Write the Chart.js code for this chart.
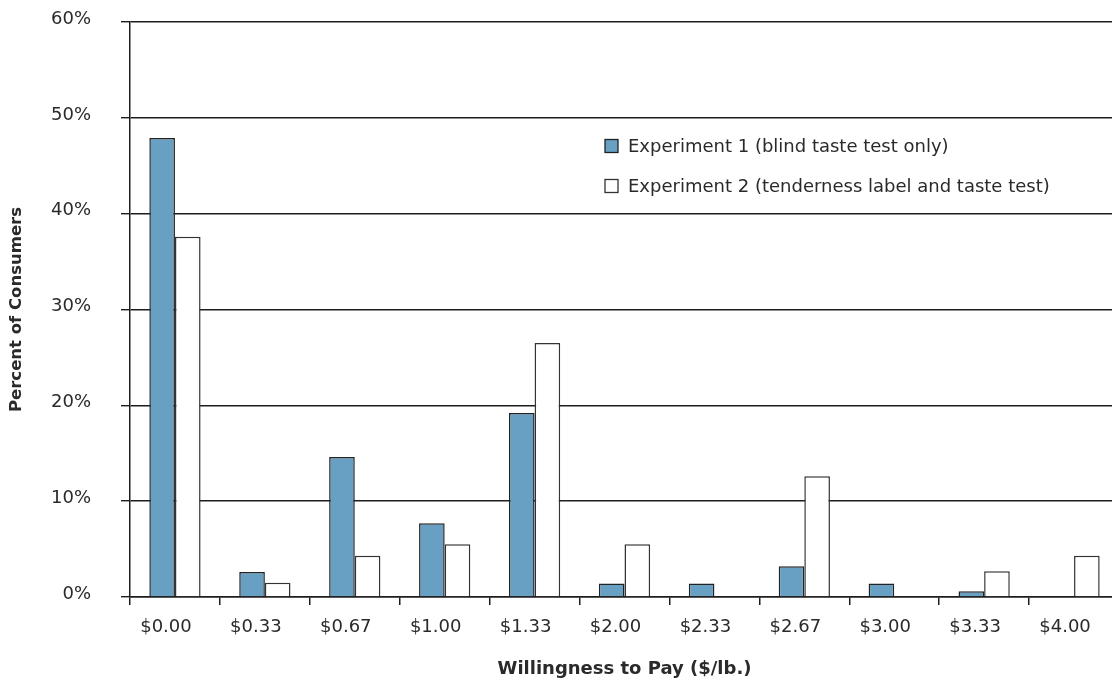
<!DOCTYPE html>
<html>
<head>
<meta charset="utf-8">
<script src="https://cdn.jsdelivr.net/npm/chart.js@4"></script>
<style>
    html, body { margin: 0; padding: 0; background: #fff; overflow: hidden; }
    #wrap { width: 1119px; height: 681px; position: relative; }
</style>
</head>
<body>
<div id="wrap"><canvas id="wtpChart"></canvas></div>
<script>
//chart data
const priceLabels = ['$0.00', '$0.33', '$0.67', '$1.00', '$1.33', '$2.00', '$2.33', '$2.67', '$3.00', '$3.33', '$4.00'];
const experiment1 = [47.9, 2.6, 14.6, 7.7, 19.2, 1.4, 1.4, 3.2, 1.4, 0.6, 0];
const experiment2 = [37.6, 1.5, 4.3, 5.5, 26.5, 5.5, 0, 12.6, 0, 2.7, 4.3];
const seriesNames = ['Experiment 1 (blind taste test only)', 'Experiment 2 (tenderness label and taste test)'];
const yTicks = [0, 10, 20, 30, 40, 50, 60];

const FONT = '"DejaVu Sans", Verdana, sans-serif';
const TEXT_COLOR = '#2a2a2a';
const LINE_COLOR = '#1e1e1e';

//legend drawn inside the plot area
const insideLegend = {
    id: 'insideLegend',
    afterDraw(chart) {
        const ctx = chart.ctx;
        const area = chart.chartArea;
        const x = area.left + 475;
        const rows = [area.top + 124, area.top + 164];
        ctx.save();
        ctx.font = '18px ' + FONT;
        ctx.textBaseline = 'middle';
        chart.data.datasets.forEach((ds, i) => {
            const y = rows[i];
            ctx.fillStyle = ds.backgroundColor;
            ctx.fillRect(x, y - 6.5, 13, 13);
            ctx.strokeStyle = ds.borderColor;
            ctx.lineWidth = 1.3;
            ctx.strokeRect(x, y - 6.5, 13, 13);
            ctx.fillStyle = TEXT_COLOR;
            ctx.fillText(ds.label, x + 23, y + 1);
        });
        ctx.restore();
    }
};

const ctx = document.getElementById('wtpChart').getContext('2d');
new Chart(ctx, {
    type: 'bar',
    data: {
        labels: priceLabels,
        datasets: [
            {
                label: seriesNames[0],
                data: experiment1,
                backgroundColor: '#68a0c4',
                borderColor: '#222',
                borderWidth: 1.5,
                borderSkipped: 'start'
            }, {
                label: seriesNames[1],
                data: experiment2,
                backgroundColor: '#ffffff',
                borderColor: '#333',
                borderWidth: 1.5,
                borderSkipped: 'start'
            }
        ]
    },
    options: {
        responsive: true,
        maintainAspectRatio: false,
        animation: false,
        layout: {
            padding: { top: 22, right: 0, left: 0, bottom: 0 }
        },
        datasets: {
            bar: {
                categoryPercentage: 0.57,
                barPercentage: 1.0
            }
        },
        plugins: {
            legend: { display: false },
            tooltip: { enabled: false }
        },
        scales: {
            x: {
                grid: {
                    offset: true,
                    drawOnChartArea: false,
                    drawTicks: true,
                    tickLength: 8,
                    color: LINE_COLOR,
                    lineWidth: 1.5
                },
                border: { color: LINE_COLOR, width: 1.5 },
                ticks: {
                    color: TEXT_COLOR,
                    font: { family: FONT, size: 18 },
                    padding: 12,
                    labelOffset: -9,
                    maxRotation: 0,
                    autoSkip: false
                },
                title: {
                    display: true,
                    text: 'Willingness to Pay ($/lb.)',
                    color: TEXT_COLOR,
                    font: { family: FONT, size: 18, weight: 'bold' },
                    padding: { top: 0, bottom: 1 }
                },
                afterFit(scale) {
                    scale.height = 84;
                }
            },
            y: {
                min: 0,
                max: 60,
                afterBuildTicks(scale) {
                    scale.ticks = yTicks.map(v => ({ value: v }));
                },
                grid: {
                    color: LINE_COLOR,
                    lineWidth: 1.4,
                    drawTicks: true,
                    tickLength: 9
                },
                border: { color: LINE_COLOR, width: 1.5 },
                ticks: {
                    color: TEXT_COLOR,
                    font: { family: FONT, size: 18 },
                    padding: 30,
                    labelOffset: -3,
                    callback: v => v + '%'
                },
                title: {
                    display: true,
                    text: 'Percent of Consumers',
                    color: TEXT_COLOR,
                    font: { family: FONT, size: 16.5, weight: 'bold' },
                    padding: { top: 7, bottom: 0 }
                },
                afterFit(scale) {
                    scale.width = 130;
                    //tick padding would otherwise push the plot down
                    scale.paddingTop = 0;
                    scale.paddingBottom = 0;
                }
            }
        }
    },
    plugins: [insideLegend]
});
</script>
</body>
</html>
